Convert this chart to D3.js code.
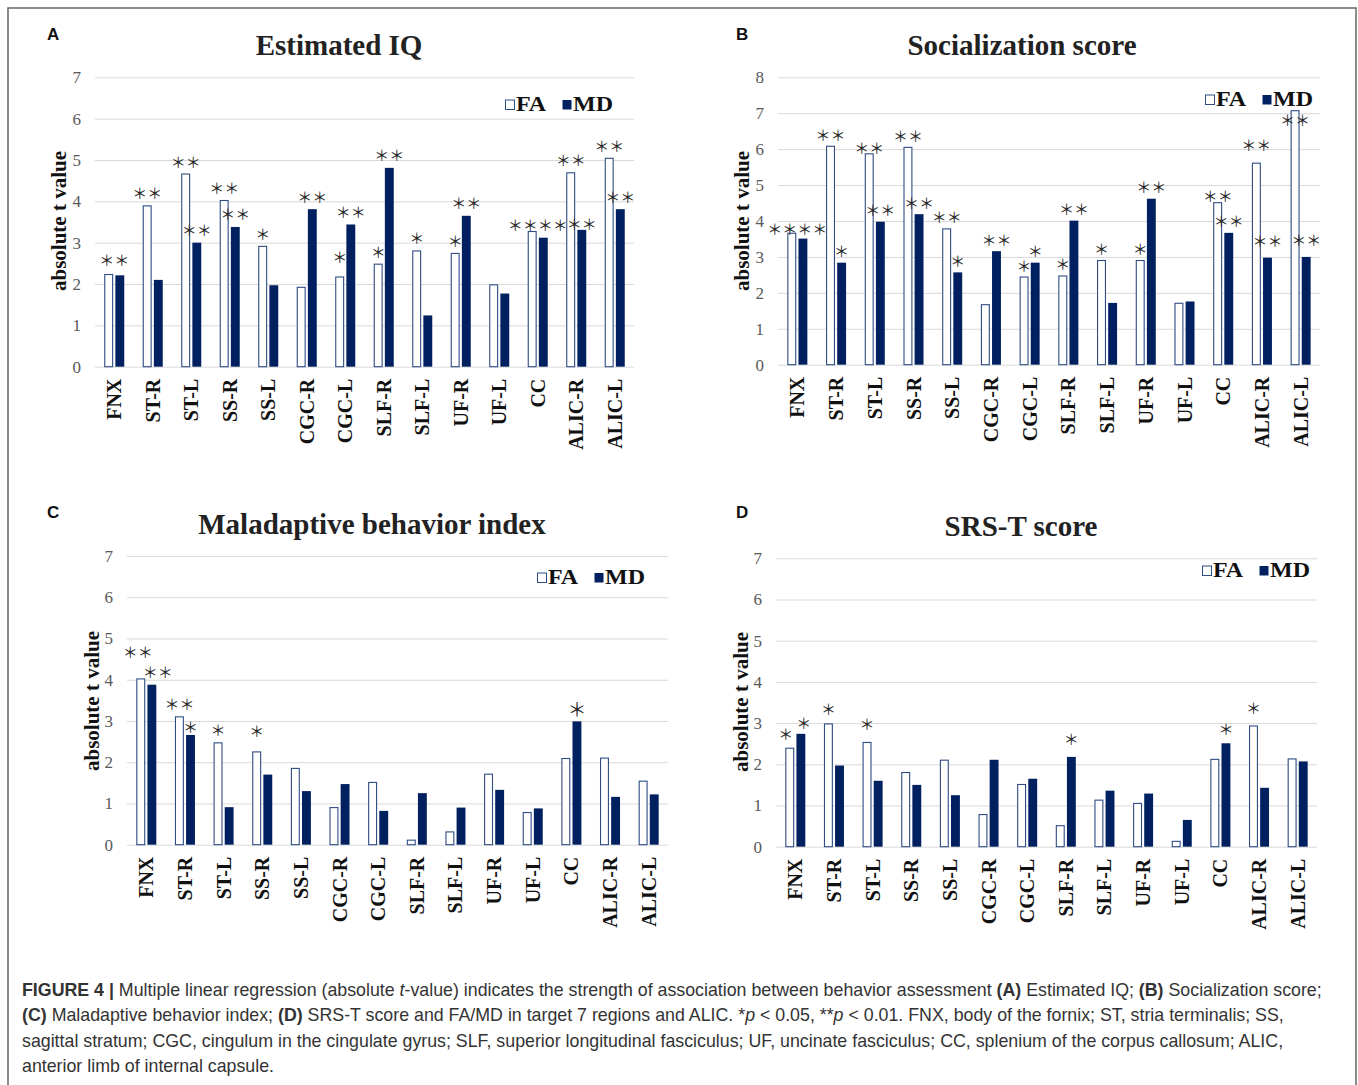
<!DOCTYPE html>
<html><head><meta charset="utf-8">
<script src="https://cdn.jsdelivr.net/npm/d3@7"></script>
<style>
body{margin:0;background:#fff}
svg{display:block}
</style></head><body>
<svg id="fig" width="1358" height="1085"></svg>
<script>
// Tract regions (x categories) and the two diffusion measures
const categories = ["FNX","ST-R","ST-L","SS-R","SS-L","CGC-R","CGC-L","SLF-R","SLF-L","UF-R","UF-L","CC","ALIC-R","ALIC-L"];
const series = ["FA","MD"];

// Absolute t values, panel A: Estimated IQ
const iqFA = [2.23,3.89,4.66,4.02,2.91,1.92,2.17,2.48,2.80,2.74,1.98,3.27,4.69,5.04];
const iqMD = [2.21,2.10,3.00,3.38,1.97,3.81,3.44,4.81,1.24,3.65,1.77,3.12,3.31,3.81];
// Panel B: Socialization score
const socFA = [3.66,6.08,5.87,6.05,3.78,1.67,2.44,2.47,2.90,2.90,1.71,4.51,5.61,7.07];
const socMD = [3.51,2.84,3.98,4.19,2.57,3.16,2.84,4.01,1.72,4.62,1.76,3.67,2.98,3.00];
// Panel C: Maladaptive behavior index
const mbiFA = [4.02,3.10,2.47,2.25,1.85,0.90,1.51,0.11,0.31,1.71,0.78,2.09,2.10,1.54];
const mbiMD = [3.88,2.66,0.91,1.70,1.30,1.47,0.82,1.25,0.90,1.33,0.88,2.99,1.16,1.22];
// Panel D: SRS-T score
const srsFA = [2.39,2.98,2.53,1.80,2.10,0.78,1.51,0.51,1.13,1.05,0.13,2.12,2.93,2.13];
const srsMD = [2.74,1.97,1.60,1.50,1.25,2.11,1.65,2.18,1.36,1.29,0.65,2.51,1.43,2.07];

// Significance marks per region: [over FA, over MD, over the pair]
const iqSig = [["","","**"],["**","",""],["**","**",""],["**","**",""],["*","",""],["","**",""],["*","**",""],
  ["*","**",""],["*","",""],["*","**",""],["","",""],["","","****"],["**","**",""],["**","**",""]];
const socSig = [["","","****"],["**","*",""],["**","**",""],["**","**",""],["**","*",""],["","**",""],["*","*",""],
  ["*","**",""],["*","",""],["*","**",""],["","",""],["**","**",""],["**","**",""],["**","**",""]];
const mbiSig = [["**","**",""],["**","*",""],["*","",""],["*","",""],["","",""],["","",""],["","",""],
  ["","",""],["","",""],["","",""],["","",""],["","*",""],["","",""],["","",""]];
const srsSig = [["*","*",""],["*","",""],["*","",""],["","",""],["","",""],["","",""],["","",""],
  ["","*",""],["","",""],["","",""],["","",""],["","*",""],["*","",""],["","",""]];

// Value-axis ticks
const ticks7 = [0,1,2,3,4,5,6,7];
const ticks8 = [0,1,2,3,4,5,6,7,8];

const svg = d3.select("#fig");
const SERIF = "'Liberation Serif','Times New Roman',serif";
const SANS = "'Liberation Sans',Arial,sans-serif";
const STAR = "'Noto Sans CJK JP','DejaVu Sans',sans-serif";
const NAVY = "#002060";
const OUTLINE = "#2f4c84";

// frame around the figure
svg.append("rect").attr("x", 8).attr("y", 8).attr("width", 1348).attr("height", 1100)
  .attr("fill", "none").attr("stroke", "#666").attr("stroke-width", 1.5);

function drawPanel(p) {
  const g = svg.append("g");
  const x = d3.scaleBand().domain(categories).range([p.left, p.right]);
  const y = d3.scaleLinear().domain([0, p.yMax]).range([p.bottom, p.top]);
  const groupW = 20;
  const sub = d3.scaleBand().domain(series).range([0, groupW]).paddingInner(0.2);
  const off = (x.bandwidth() - groupW) / 2;

  // gridlines and value labels
  const ya = g.append("g").attr("transform", `translate(${p.left},0)`)
    .call(d3.axisLeft(y).tickValues(p.ticks).tickSize(-(p.right - p.left)).tickSizeOuter(0)
      .tickPadding(14).tickFormat(d3.format("d")));
  ya.attr("font-family", SERIF).attr("font-size", 17);
  ya.select(".domain").remove();
  ya.selectAll("line").attr("stroke", "#d9d9d9").attr("stroke-width", 1);
  ya.selectAll("text").attr("font-family", SERIF).attr("font-size", 17).attr("fill", "#595959");

  // region labels, rotated
  const xa = g.append("g").attr("transform", `translate(0,${p.bottom})`)
    .call(d3.axisBottom(x).tickSize(0).tickPadding(0));
  xa.attr("font-family", SERIF);
  xa.select(".domain").remove();
  xa.selectAll("text")
    .attr("transform", "rotate(-90)")
    .attr("x", -12).attr("y", 0).attr("dy", "0.35em")
    .attr("text-anchor", "end")
    .attr("font-family", SERIF).attr("font-size", 20).attr("font-weight", "bold").attr("fill", "#111");

  const rows = categories.map((c, i) => ({ cat: c, FA: p.fa[i], MD: p.md[i], sig: p.sig[i] }));

  // bars
  const grp = g.append("g").selectAll("g").data(rows).join("g")
    .attr("transform", d => `translate(${x(d.cat) + off},0)`);
  grp.selectAll("rect").data(d => series.map(s => ({ s, v: d[s] }))).join("rect")
    .attr("x", d => sub(d.s) + (d.s === "FA" ? 0.5 : 0))
    .attr("y", d => y(d.v))
    .attr("width", d => sub.bandwidth() - (d.s === "FA" ? 1 : 0))
    .attr("height", d => p.bottom - y(d.v))
    .attr("fill", d => d.s === "FA" ? "#fff" : NAVY)
    .attr("stroke", d => d.s === "FA" ? OUTLINE : "none")
    .attr("stroke-width", 1.1);

  // significance stars
  const marks = [];
  rows.forEach(d => {
    const base = x(d.cat) + off;
    series.forEach((s, k) => {
      if (d.sig[k]) marks.push({ key: `${d.cat}|${s}`, txt: d.sig[k],
        cx: base + sub(s) + sub.bandwidth() / 2, top: y(d[s]) });
    });
    if (d.sig[2]) marks.push({ key: `${d.cat}|pair`, txt: d.sig[2],
      cx: x(d.cat) + x.bandwidth() / 2, top: Math.min(y(d.FA), y(d.MD)) });
  });
  const nudge = p.nudge || {};
  g.append("g").selectAll("text").data(marks).join("text")
    .attr("x", d => d.cx + (nudge[d.key] || 0))
    .attr("y", d => d.top - (p.lifts[d.key] !== undefined ? p.lifts[d.key] : p.lift))
    .attr("text-anchor", "middle").attr("dominant-baseline", "central")
    .attr("font-family", STAR).attr("font-size", d => (p.bigStars || {})[d.key] || 15).attr("fill", "#2a2a2a")
    .text(d => d.txt.replace(/\*/g, "\uFF0A"));

  // title, panel letter, value-axis title
  g.append("text").attr("x", p.titleX).attr("y", p.titleY).attr("text-anchor", "middle")
    .attr("font-family", SERIF).attr("font-size", 29).attr("font-weight", "bold").attr("fill", "#222")
    .text(p.title);
  g.append("text").attr("x", p.letterX).attr("y", p.letterY)
    .attr("font-family", SANS).attr("font-size", 17).attr("font-weight", "bold").attr("fill", "#111")
    .text(p.letter);
  g.append("text").attr("transform", `translate(${p.axisX},${p.axisY}) rotate(-90)`)
    .attr("text-anchor", "middle")
    .attr("font-family", SERIF).attr("font-size", 21).attr("font-weight", "bold").attr("fill", "#111")
    .text("absolute t value");

  // legend
  const lg = g.append("g").attr("transform", `translate(${p.legX},${p.legY})`);
  lg.append("rect").attr("x", 0.5).attr("y", -11).attr("width", 9).attr("height", 9.5)
    .attr("fill", "#fff").attr("stroke", OUTLINE).attr("stroke-width", 1);
  lg.append("rect").attr("x", 57.5).attr("y", -11).attr("width", 9).attr("height", 9.5).attr("fill", NAVY);
  [["FA", 11], ["MD", 68]].forEach(([t, dx]) => {
    lg.append("text").attr("transform", `translate(${dx},0) scale(1.2,1)`)
      .attr("font-family", SERIF).attr("font-size", 20).attr("font-weight", "bold").attr("fill", "#111")
      .text(t);
  });
}

drawPanel({ letter: "A", title: "Estimated IQ", fa: iqFA, md: iqMD, sig: iqSig, yMax: 7, ticks: ticks7,
  left: 95, right: 634, bottom: 366.7, top: 77.3, titleX: 339, titleY: 55, letterX: 47, letterY: 40,
  axisX: 66, axisY: 221, legX: 505, legY: 111, lift: 13,
  lifts: { "FNX|pair": 15, "CGC-L|FA": 20, "CC|pair": 7, "ALIC-R|MD": 6 } });

drawPanel({ letter: "B", title: "Socialization score", fa: socFA, md: socMD, sig: socSig, yMax: 8, ticks: ticks8,
  left: 778, right: 1320, bottom: 364.7, top: 77.3, titleX: 1022, titleY: 55, letterX: 736, letterY: 40,
  axisX: 749, axisY: 221, legX: 1205, legY: 106, lift: 12,
  lifts: { "FNX|pair": 5, "ST-L|FA": 6, "CC|FA": 7, "ALIC-R|FA": 19, "ALIC-R|MD": 17, "ALIC-L|FA": -9, "ALIC-L|MD": 17 } });

drawPanel({ letter: "C", title: "Maladaptive behavior index", fa: mbiFA, md: mbiMD, sig: mbiSig, yMax: 7, ticks: ticks7,
  left: 127, right: 668, bottom: 844.7, top: 556, titleX: 372, titleY: 534, letterX: 47, letterY: 518,
  axisX: 99, axisY: 701, legX: 537, legY: 584, lift: 13,
  lifts: { "FNX|FA": 27, "ST-R|MD": 8, "SS-R|FA": 21 }, bigStars: { "CC|MD": 19 },
  nudge: { "FNX|FA": -3, "FNX|MD": 6 } });

drawPanel({ letter: "D", title: "SRS-T score", fa: srsFA, md: srsMD, sig: srsSig, yMax: 7, ticks: ticks7,
  left: 776, right: 1317, bottom: 846.7, top: 558.3, titleX: 1021, titleY: 536, letterX: 736, letterY: 518,
  axisX: 748, axisY: 702, legX: 1202, legY: 577, lift: 15,
  lifts: { "FNX|MD": 11, "ST-L|FA": 19, "SLF-R|MD": 18, "ALIC-R|FA": 18 },
  nudge: { "FNX|FA": -4, "FNX|MD": 3 } });

// caption
const caption = [
  [["FIGURE 4 | ", "b"], ["Multiple linear regression (absolute "], ["t", "i"], ["-value) indicates the strength of association between behavior assessment "], ["(A)", "b"], [" Estimated IQ; "], ["(B)", "b"], [" Socialization score;"]],
  [["(C)", "b"], [" Maladaptive behavior index; "], ["(D)", "b"], [" SRS-T score and FA/MD in target 7 regions and ALIC. *"], ["p", "i"], [" < 0.05, **"], ["p", "i"], [" < 0.01. FNX, body of the fornix; ST, stria terminalis; SS,"]],
  [["sagittal stratum; CGC, cingulum in the cingulate gyrus; SLF, superior longitudinal fasciculus; UF, uncinate fasciculus; CC, splenium of the corpus callosum; ALIC,"]],
  [["anterior limb of internal capsule."]]
];
const capY = [996, 1021, 1047, 1072];
caption.forEach((line, i) => {
  const t = svg.append("text").attr("x", 22).attr("y", capY[i])
    .attr("font-family", SANS).attr("font-size", 17.8).attr("fill", "#333");
  line.forEach(([s, f]) => {
    t.append("tspan").attr("font-weight", f === "b" ? "bold" : null)
      .attr("font-style", f === "i" ? "italic" : null).text(s);
  });
});
</script>
</body></html>
